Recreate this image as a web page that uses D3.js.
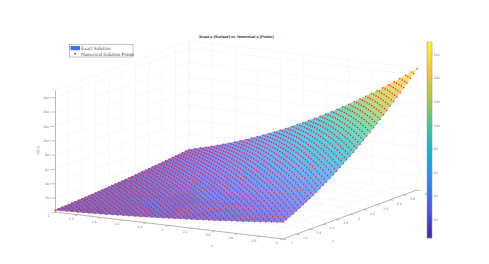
<!DOCTYPE html>
<html>
<head>
<meta charset="utf-8">
<script src="https://d3js.org/d3.v7.min.js"></script>
<style>
  html, body { margin: 0; padding: 0; background: #fff; }
  text { font-family: "Liberation Sans", sans-serif; text-rendering: geometricPrecision; }
</style>
</head>
<body>
<div id="canvas"></div>
<script>
var width = 489,
    height = 264;

// grid of the surface, x and y both run 1..3 in steps of 0.05
var xGrid = [1,1.05,1.1,1.15,1.2,1.25,1.3,1.35,1.4,1.45,1.5,1.55,1.6,1.65,1.7,1.75,1.8,1.85,1.9,1.95,2,
             2.05,2.1,2.15,2.2,2.25,2.3,2.35,2.4,2.45,2.5,2.55,2.6,2.65,2.7,2.75,2.8,2.85,2.9,2.95,3];
var yGrid = xGrid.slice();

// height profiles; u(i,j) = xProfile[i] * yProfile[j]
var xProfile = [1.00,1.10,1.21,1.32,1.44,1.56,1.69,1.82,1.96,2.10,2.25,2.40,2.56,2.72,2.89,3.06,3.24,3.42,3.61,3.80,4.00,
                4.20,4.41,4.62,4.84,5.06,5.29,5.52,5.76,6.00,6.25,6.50,6.76,7.02,7.29,7.56,7.84,8.12,8.41,8.70,9.00];
var yProfile = [2.60,2.84,3.09,3.34,3.61,3.89,4.17,4.46,4.76,5.07,5.39,5.72,6.06,6.40,6.76,7.12,7.49,7.87,8.26,8.65,9.05,
                9.46,9.89,10.31,10.75,11.19,11.64,12.10,12.57,13.04,13.53,14.02,14.52,15.03,15.54,16.06,16.59,17.13,17.67,18.22,18.78];

var xTicks = [1,1.2,1.4,1.6,1.8,2,2.2,2.4,2.6,2.8,3];
var yTicks = xTicks.slice();
var zTicks = [20,40,60,80,100,120,140,160];
var cbarTicks = zTicks.slice();
var legendLabels = ["Exact Solution", "Numerical Solution Points"];

// parula
var parula = ["#3e26a8","#4752f4","#2d87f7","#12b1d6","#37c897","#abc739","#fec338","#f9fb15"];
var colorDomain = [4, 170.4];
var color = d3.scaleLinear()
    .domain(parula.map(function(c, i) { return colorDomain[0] + i / (parula.length - 1) * (colorDomain[1] - colorDomain[0]); }))
    .range(parula)
    .interpolate(d3.interpolateRgb);

// same thing seen through the surface's transparency
function faceColor(u) {
  return d3.interpolateRgb(color(u), "#fff")(0.28);
}

// oblique view, the axes are parallel on the page
var xToPx = d3.scaleLinear().domain([1, 3]).range([55, 283]),
    xToPy = d3.scaleLinear().domain([1, 3]).range([0, 27]),
    yToPx = d3.scaleLinear().domain([1, 3]).range([0, 134]),
    yToPy = d3.scaleLinear().domain([1, 3]).range([0, -49]),
    zScale = d3.scaleLinear().domain([0, 170]).range([212, 90]);

function project(x, y, z) {
  return [xToPx(x) + yToPx(y), xToPy(x) + yToPy(y) + zScale(z)];
}

var line = d3.line();
var labelColor = "#777",
    labelSize = 3.5;

var svg = d3.select("#canvas").append("svg")
    .attr("width", width)
    .attr("height", height)
    .style("display", "block");

// back walls and floor grid
var grid = svg.append("g")
    .attr("fill", "none")
    .attr("stroke", "#f0f0f0")
    .attr("stroke-width", 0.5);

xTicks.forEach(function(x) {
  grid.append("path").attr("d", line([project(x, 1, 0), project(x, 3, 0), project(x, 3, 170)]));
});
yTicks.forEach(function(y) {
  grid.append("path").attr("d", line([project(3, y, 0), project(1, y, 0), project(1, y, 170)]));
});
zTicks.concat([170]).forEach(function(z) {
  grid.append("path").attr("d", line([project(1, 1, z), project(1, 3, z), project(3, 3, z)]));
});

// surface
var cells = [];
for (var i = 0; i < xGrid.length - 1; i++) {
  for (var j = yGrid.length - 2; j >= 0; j--) {
    cells.push([i, j]);
  }
}
svg.append("g").selectAll("path")
    .data(cells)
  .enter().append("path")
    .attr("d", function(d) {
      var a = d[0], b = d[1];
      return line([
        project(xGrid[a], yGrid[b], xProfile[a] * yProfile[b]),
        project(xGrid[a + 1], yGrid[b], xProfile[a + 1] * yProfile[b]),
        project(xGrid[a + 1], yGrid[b + 1], xProfile[a + 1] * yProfile[b + 1]),
        project(xGrid[a], yGrid[b + 1], xProfile[a] * yProfile[b + 1])
      ]) + "Z";
    })
    .attr("fill", function(d) { return faceColor(xProfile[d[0]] * yProfile[d[1]]); })
    .attr("stroke", function(d) { return faceColor(xProfile[d[0]] * yProfile[d[1]]); })
    .attr("stroke-width", 0.4);

// numerical points
var points = [];
xGrid.forEach(function(x, a) {
  yGrid.forEach(function(y, b) {
    points.push(project(x, y, xProfile[a] * yProfile[b]));
  });
});
svg.append("g").selectAll("circle")
    .data(points)
  .enter().append("circle")
    .attr("cx", function(d) { return d[0]; })
    .attr("cy", function(d) { return d[1]; })
    .attr("r", 0.75)
    .attr("fill", "#f5202e");

// z axis
var zAxis = svg.append("g")
    .attr("transform", "translate(55,0)")
    .call(d3.axisLeft(zScale).tickValues(zTicks).tickSize(5).tickSizeOuter(0).tickPadding(1));
zAxis.selectAll("path").attr("stroke", "#8a8a8a").attr("stroke-width", 0.6);
zAxis.selectAll("line").attr("stroke", "#8a8a8a").attr("stroke-width", 0.5);
zAxis.selectAll("text").attr("font-size", labelSize).attr("fill", labelColor);

svg.append("text")
    .attr("transform", "translate(39,150) rotate(-90)")
    .attr("text-anchor", "middle")
    .attr("font-size", labelSize)
    .attr("fill", labelColor)
    .text("u(x,y)");

// x and y axes on the floor
var axisStroke = "#8a8a8a";
svg.append("path")
    .attr("d", line([project(1, 1, 0), project(3, 1, 0), project(3, 3, 0)]))
    .attr("fill", "none")
    .attr("stroke", axisStroke)
    .attr("stroke-width", 0.6);

xTicks.forEach(function(x) {
  var p = project(x, 1, 0);
  svg.append("path").attr("d", line([p, [p[0] - 3, p[1] + 1]]))
      .attr("stroke", axisStroke).attr("stroke-width", 0.5);
  svg.append("text").attr("x", p[0] - 6.5).attr("y", p[1] + 5.2)
      .attr("text-anchor", "middle").attr("font-size", labelSize).attr("fill", labelColor).text(x);
});
yTicks.forEach(function(y) {
  var p = project(3, y, 0);
  svg.append("path").attr("d", line([p, [p[0] + 3.5, p[1] + 0.6]]))
      .attr("stroke", axisStroke).attr("stroke-width", 0.5);
  svg.append("text").attr("x", p[0] + 9).attr("y", p[1] + 5)
      .attr("text-anchor", "middle").attr("font-size", labelSize).attr("fill", labelColor).text(y);
});

svg.append("text").attr("x", 212).attr("y", 246.5)
    .attr("text-anchor", "middle").attr("font-size", labelSize).attr("fill", labelColor).text("x");
svg.append("text").attr("x", 333).attr("y", 241.5)
    .attr("text-anchor", "middle").attr("font-size", labelSize).attr("fill", labelColor).text("y");

// title
svg.append("text")
    .attr("x", 236.5)
    .attr("y", 38.3)
    .attr("text-anchor", "middle")
    .attr("font-size", 3.75)
    .attr("font-weight", "bold")
    .attr("fill", "#222")
    .text("Exact u (Surface) vs. Numerical u (Points)");

// legend
var legend = svg.append("g");
legend.append("rect")
    .attr("x", 69.5).attr("y", 44.5).attr("width", 63.5).attr("height", 12.5)
    .attr("fill", "#fff").attr("stroke", "#9a9a9a").attr("stroke-width", 0.6);
legend.append("rect")
    .attr("x", 70.5).attr("y", 46).attr("width", 9.5).attr("height", 4.2)
    .attr("fill", "#3f6cff");
legend.append("circle")
    .attr("cx", 75.3).attr("cy", 53.8).attr("r", 0.95).attr("fill", "#f5202e");
legend.selectAll("text.label")
    .data(legendLabels)
  .enter().append("text")
    .attr("class", "label")
    .attr("x", 81)
    .attr("y", function(d, i) { return 49.8 + i * 5.9; })
    .attr("font-size", 5)
    .attr("fill", "#444")
    .style("font-family", "'Liberation Serif', serif")
    .text(function(d) { return d; });

// colorbar
var cbarScale = d3.scaleLinear().domain(colorDomain).range([238, 42]);
var cbarSteps = d3.range(0, 196);
svg.append("g").selectAll("rect")
    .data(cbarSteps)
  .enter().append("rect")
    .attr("x", 427)
    .attr("y", function(d) { return 42 + d; })
    .attr("width", 5)
    .attr("height", 1.2)
    .attr("fill", function(d) { return color(cbarScale.invert(42 + d + 0.5)); });
svg.append("rect")
    .attr("x", 427).attr("y", 42).attr("width", 5).attr("height", 196)
    .attr("fill", "none").attr("stroke", "#9a9a9a").attr("stroke-width", 0.5);
var cbarAxis = svg.append("g")
    .attr("transform", "translate(432,0)")
    .call(d3.axisRight(cbarScale).tickValues(cbarTicks).tickSize(1).tickPadding(0.8));
cbarAxis.selectAll("path").remove();
cbarAxis.selectAll("line").attr("stroke", "#8a8a8a").attr("stroke-width", 0.5);
cbarAxis.selectAll("text").attr("font-size", labelSize).attr("fill", labelColor);
</script>
</body>
</html>
